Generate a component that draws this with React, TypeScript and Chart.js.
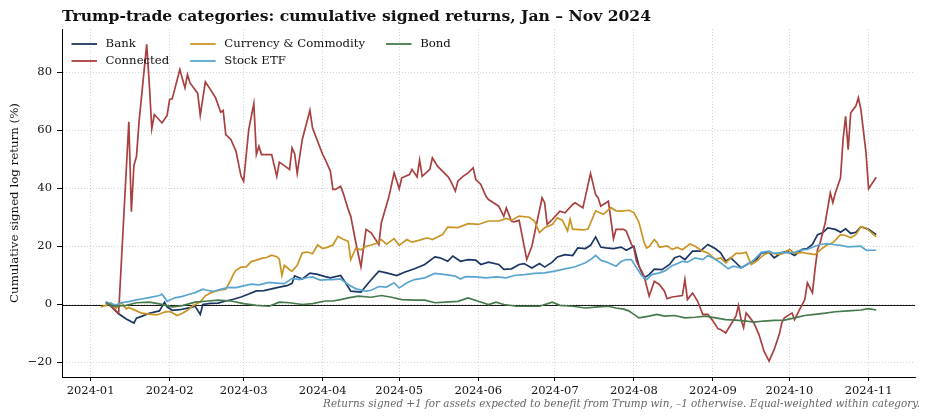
import { useEffect, useRef } from "react"
import { Chart, registerables } from "chart.js"

Chart.register(...registerables)

const FONT = "'DejaVu Serif', serif"

// x values are days since 2024-01-01
const monthStarts = [0, 31, 60, 91, 121, 152, 182, 213, 244, 274, 305]
const monthLabels = ["2024-01", "2024-02", "2024-03", "2024-04", "2024-05", "2024-06", "2024-07", "2024-08", "2024-09", "2024-10", "2024-11"]
const yTicks = [-20, 0, 20, 40, 60, 80]

const seriesNames = ["Bank", "Connected", "Currency & Commodity", "Stock ETF", "Bond"]
const seriesColors = ["#1c3664", "#a8403f", "#c99423", "#5aa5d0", "#467a4c"]

const bankDays = [
  6, 8, 11, 14, 17, 18, 20, 23, 27, 29,
  30, 32, 35, 39, 41, 43, 44, 47, 50, 53,
  56, 59, 62, 65, 68, 71, 74, 77, 79, 80,
  83, 86, 89, 92, 94, 98, 100, 102, 106, 109,
  113, 116, 120, 123, 127, 131, 135, 137, 140, 142,
  145, 148, 151, 153, 156, 160, 162, 165, 168, 170,
  173, 176, 178, 181, 183, 186, 189, 191, 194, 196,
  198, 200, 202, 205, 208, 210, 213, 215, 217, 219,
  221, 224, 227, 229, 231, 233, 236, 239, 242, 245,
  247, 249, 251, 253, 255, 258, 261, 263, 266, 268,
  271, 273, 276, 279, 281, 283, 285, 287, 289, 292,
  294, 296, 298, 300, 302, 305, 308,
]
const bankVals = [
  0.8, -0.6, -3.2, -5.0, -6.4, -4.7, -4.1, -3.0, -2.2, 0.8,
  -0.8, -2.0, -1.8, -1.1, -0.6, -3.4, 0.0, 0.4, 0.5, 1.2,
  1.8, 2.6, 3.6, 4.7, 4.8, 5.4, 6.0, 6.5, 7.3, 9.9,
  8.8, 10.8, 10.4, 9.6, 9.2, 10.0, 7.5, 4.6, 4.3, 7.5,
  11.5, 10.9, 10.0, 11.1, 12.3, 13.8, 16.4, 16.1, 14.9, 16.7,
  14.9, 15.5, 15.3, 13.8, 14.6, 13.8, 12.1, 12.3, 13.8, 14.1,
  12.6, 14.1, 12.9, 14.6, 16.4, 17.2, 16.9, 19.5, 19.3, 20.4,
  23.3, 19.8, 19.5, 19.3, 19.8, 18.7, 20.1, 13.2, 9.2, 10.3,
  12.2, 12.0, 13.8, 16.1, 16.7, 15.5, 18.4, 18.4, 20.7, 19.2,
  17.8, 14.9, 16.1, 14.4, 12.6, 14.1, 15.5, 17.8, 18.0, 16.1,
  17.8, 18.4, 16.9, 19.0, 19.3, 20.7, 24.1, 24.7, 26.4, 25.9,
  24.9, 26.1, 24.5, 24.9, 26.8, 25.9, 24.1,
]

const connectedDays = [
  6, 8, 9, 11, 15, 16, 17, 18, 19, 22,
  23, 24, 25, 28, 30, 31, 32, 35, 37, 38,
  39, 42, 43, 45, 47, 49, 51, 52, 53, 55,
  57, 59, 60, 62, 64, 65, 66, 67, 71, 73,
  74, 75, 78, 79, 80, 81, 83, 86, 87, 91,
  92, 94, 95, 96, 98, 99, 101, 102, 104, 106,
  108, 110, 113, 114, 117, 119, 121, 122, 125, 126,
  128, 129, 130, 133, 134, 136, 140, 141, 143, 144,
  146, 148, 150, 151, 153, 155, 156, 159, 160, 162,
  163, 165, 166, 168, 171, 173, 177, 178, 179, 181,
  184, 186, 189, 190, 193, 196, 198, 199, 200, 203,
  205, 206, 209, 210, 212, 213, 214, 216, 217, 218,
  219, 221, 223, 225, 226, 228, 232, 233, 234, 236,
  238, 240, 242, 244, 246, 247, 249, 251, 253, 254,
  255, 256, 257, 258, 260, 262, 264, 266, 268, 270,
  271, 272, 275, 276, 278, 280, 281, 283, 284, 285,
  286, 288, 290, 291, 292, 294, 295, 296, 297, 298,
  300, 301, 302, 304, 305, 308,
]
const connectedVals = [
  0.8, -0.5, -1.5, -3.0, 63.0, 32.0, 48.0, 51.0, 63.0, 89.7,
  76.4, 60.6, 65.5, 62.6, 65.2, 70.7, 70.9, 81.0, 74.7, 79.3,
  76.4, 72.8, 65.2, 76.8, 74.1, 71.3, 66.3, 66.9, 58.6, 56.9,
  52.9, 44.2, 42.5, 60.3, 69.3, 51.7, 54.6, 51.7, 51.7, 44.2,
  49.1, 48.5, 46.6, 54.0, 52.0, 45.2, 56.9, 67.0, 60.9, 51.7,
  50.0, 46.0, 39.7, 39.7, 40.8, 38.5, 32.8, 30.4, 21.3, 13.0,
  25.9, 24.7, 20.7, 28.2, 37.3, 45.4, 39.9, 43.7, 44.8, 46.6,
  44.0, 49.8, 44.2, 46.6, 50.6, 47.7, 44.2, 42.9, 39.1, 42.5,
  44.2, 45.4, 47.1, 43.1, 41.4, 37.3, 36.2, 34.5, 33.9, 30.4,
  33.3, 28.7, 28.5, 29.0, 15.5, 20.1, 36.8, 35.1, 27.6, 29.3,
  32.2, 31.6, 34.5, 35.1, 33.3, 45.2, 37.9, 36.8, 33.9, 35.6,
  22.7, 25.9, 25.9, 25.3, 20.8, 19.5, 14.9, 11.5, 9.8, 6.3,
  2.9, 8.0, 6.9, 4.6, 2.0, 2.6, 3.1, 8.6, 1.7, 4.0,
  1.1, -3.4, -3.4, -5.7, -8.4, -8.6, -9.8, -6.9, -4.0, -0.3,
  -5.2, -8.0, -2.9, -4.0, -6.3, -10.3, -16.1, -19.5, -15.5, -10.3,
  -6.3, -4.6, -2.9, -5.2, -1.7, 1.7, 7.5, 4.0, 12.1, 19.0,
  21.3, 28.2, 38.5, 35.1, 38.5, 43.7, 56.9, 64.9, 53.4, 66.1,
  68.4, 71.3, 67.2, 52.3, 39.9, 43.9,
]

const currencyDays = [
  4, 6, 8, 10, 12, 14, 15, 18, 20, 23,
  26, 29, 31, 34, 36, 38, 40, 43, 45, 47,
  49, 51, 53, 55, 56, 57, 59, 61, 63, 65,
  67, 69, 71, 73, 74, 75, 76, 78, 79, 81,
  83, 85, 87, 89, 91, 93, 95, 97, 99, 101,
  102, 104, 106, 108, 110, 112, 114, 116, 119, 121,
  124, 126, 129, 132, 134, 138, 140, 144, 148, 152,
  156, 160, 163, 165, 168, 172, 174, 176, 178, 181,
  183, 185, 187, 188, 189, 193, 195, 198, 201, 204,
  206, 208, 211, 213, 215, 217, 218, 219, 221, 222,
  223, 226, 228, 230, 232, 235, 237, 240, 242, 245,
  247, 249, 253, 255, 257, 259, 261, 264, 266, 270,
  272, 274, 276, 279, 281, 284, 287, 289, 291, 294,
  296, 298, 300, 302, 304, 306, 308,
]
const currencyVals = [
  -0.8, -0.3, 0.5, -1.3, 0.7, -1.5, -1.0, -2.2, -3.0, -3.3,
  -3.6, -2.6, -2.4, -3.8, -3.0, -2.0, -0.5, 0.9, 3.0, 4.0,
  4.6, 5.0, 5.3, 8.5, 10.5, 11.8, 12.9, 13.0, 14.8, 15.3,
  15.9, 16.2, 17.0, 16.5, 15.6, 10.0, 13.5, 12.0, 11.5, 13.5,
  17.8, 18.1, 17.5, 20.5, 19.3, 19.8, 20.5, 23.5, 22.5, 21.8,
  15.5, 19.5, 18.9, 20.1, 20.5, 21.0, 22.4, 20.8, 22.7, 20.4,
  22.4, 21.5, 22.2, 23.0, 22.4, 24.1, 26.7, 26.5, 27.9, 27.6,
  28.8, 28.8, 29.7, 29.0, 30.5, 30.1, 28.8, 24.8, 26.5, 27.6,
  29.9, 29.0, 25.4, 29.4, 26.0, 25.7, 26.0, 32.3, 31.1, 33.4,
  32.3, 32.2, 32.5, 31.7, 28.3, 21.4, 19.5, 20.0, 22.4, 21.4,
  19.7, 20.2, 19.0, 19.7, 18.9, 20.9, 20.1, 18.4, 17.8, 15.5,
  16.1, 14.4, 17.6, 17.6, 18.0, 13.8, 14.9, 17.2, 18.0, 17.2,
  17.8, 19.0, 17.6, 18.0, 17.6, 17.2, 19.5, 20.7, 21.3, 24.1,
  23.8, 23.0, 24.1, 26.8, 26.4, 24.9, 23.3,
]

const stockDays = [
  6, 8, 10, 12, 15, 18, 20, 23, 27, 28,
  30, 33, 36, 39, 41, 44, 45, 48, 51, 54,
  57, 60, 63, 66, 70, 73, 76, 79, 82, 85,
  87, 90, 93, 95, 98, 101, 104, 108, 110, 113,
  116, 119, 121, 124, 127, 131, 135, 139, 143, 145,
  147, 151, 155, 159, 163, 166, 170, 174, 178, 182,
  186, 190, 194, 196, 198, 200, 203, 206, 208, 210,
  212, 213, 216, 218, 220, 223, 225, 228, 230, 232,
  234, 237, 240, 242, 245, 247, 250, 252, 255, 258,
  260, 263, 266, 268, 271, 273, 276, 278, 281, 284,
  286, 289, 291, 294, 297, 302, 304, 308,
]
const stockVals = [
  0.8, 0.3, -0.2, 0.6, 1.0, 1.6, 1.9, 2.4, 3.1, 3.6,
  1.1, 2.3, 2.8, 3.6, 4.1, 5.3, 5.0, 4.5, 5.2, 5.9,
  5.8, 6.4, 7.0, 6.8, 7.6, 7.4, 7.2, 9.0, 8.6, 9.3,
  9.5, 8.4, 8.6, 8.6, 8.8, 6.9, 5.4, 4.6, 4.9, 6.2,
  6.0, 7.5, 5.7, 7.5, 8.6, 9.2, 10.7, 10.3, 9.8, 8.8,
  9.6, 9.5, 9.2, 9.5, 9.2, 10.0, 10.3, 10.7, 10.9, 11.5,
  12.3, 13.0, 14.4, 15.5, 16.9, 15.3, 14.4, 13.2, 14.8, 15.5,
  15.5, 14.1, 10.0, 8.6, 10.3, 10.9, 11.5, 13.4, 14.1, 14.9,
  14.6, 16.1, 15.5, 16.9, 15.5, 14.4, 12.3, 13.2, 12.6, 14.1,
  15.3, 18.0, 18.4, 17.6, 18.0, 17.8, 18.0, 18.7, 19.0, 20.1,
  20.7, 21.0, 20.7, 20.4, 19.9, 20.1, 18.7, 18.7,
]

const bondDays = [
  6, 8, 10, 14, 18, 23, 27, 32, 36, 41,
  46, 50, 55, 60, 65, 70, 74, 78, 83, 87,
  92, 95, 98, 101, 105, 110, 114, 118, 122, 127,
  131, 135, 139, 144, 148, 152, 156, 159, 162, 167,
  172, 176, 181, 184, 189, 194, 199, 203, 206, 209,
  211, 213, 215, 219, 222, 225, 229, 233, 237, 241,
  245, 249, 253, 257, 260, 264, 268, 272, 276, 280,
  284, 288, 292, 297, 302, 305, 308,
]
const bondVals = [
  0.6, -0.3, -0.6, -0.3, 0.6, 0.8, 0.2, -0.8, -0.4, 0.8,
  1.2, 1.5, 1.2, 0.3, -0.3, -0.6, 0.8, 0.6, 0.0, 0.3,
  1.2, 1.2, 1.7, 2.3, 2.9, 2.5, 3.1, 2.5, 1.7, 1.5,
  1.5, 0.6, 0.8, 1.1, 2.3, 1.1, 0.0, 0.8, 0.0, -0.6,
  -0.6, -0.6, 0.8, -0.3, -0.6, -1.2, -0.8, -0.6, -1.2, -1.6,
  -2.2, -3.4, -4.6, -4.0, -3.4, -4.0, -3.8, -4.6, -4.4, -4.0,
  -4.6, -5.2, -5.4, -5.7, -6.1, -5.7, -5.5, -5.4, -4.6, -3.8,
  -3.4, -3.0, -2.5, -2.2, -1.9, -1.4, -1.9,
]

const titleText = "Trump-trade categories: cumulative signed returns, Jan \u2013 Nov 2024"
const footnoteText =
  "Returns signed +1 for assets expected to benefit from Trump win, \u20131 otherwise. Equal-weighted within category."

const toPoints = (days: number[], vals: number[]) => days.map((d, i) => ({ x: d, y: vals[i] }))

// title, footnote, legend (3 columns, column-major) and the zero line
const decorPlugin = {
  id: "decor",
  beforeDatasetsDraw(chart: any) {
    const { ctx, chartArea, scales } = chart
    const y0 = Math.round(scales.y.getPixelForValue(0)) + 0.5
    ctx.save()
    ctx.strokeStyle = "#000"
    ctx.lineWidth = 0.9
    ctx.beginPath()
    ctx.moveTo(chartArea.left, y0)
    ctx.lineTo(chartArea.right, y0)
    ctx.stroke()
    ctx.restore()
  },
  afterDraw(chart: any) {
    const { ctx, chartArea } = chart
    ctx.save()
    ctx.fillStyle = "#111"
    ctx.font = `bold 15.6px ${FONT}`
    ctx.textBaseline = "alphabetic"
    ctx.textAlign = "left"
    ctx.fillText(titleText, chartArea.left, 21)

    ctx.font = `italic 10.4px ${FONT}`
    ctx.fillStyle = "#666"
    ctx.textAlign = "right"
    ctx.textBaseline = "middle"
    ctx.fillText(footnoteText, 920, 404)

    // legend
    ctx.font = `11.7px ${FONT}`
    ctx.textAlign = "left"
    ctx.textBaseline = "middle"
    const lineLen = 25.5
    const gap = 8.6
    const colSpacing = 21
    const rowY = [44, 61]
    let colX = 71.5
    for (let c = 0; c < 3; c++) {
      let maxW = 0
      for (let r = 0; r < 2; r++) {
        const i = c * 2 + r
        if (i >= seriesNames.length) continue
        const y = rowY[r]
        ctx.strokeStyle = seriesColors[i]
        ctx.lineWidth = 1.8
        ctx.beginPath()
        ctx.moveTo(colX, y)
        ctx.lineTo(colX + lineLen, y)
        ctx.stroke()
        ctx.fillStyle = "#111"
        ctx.fillText(seriesNames[i], colX + lineLen + gap, y)
        maxW = Math.max(maxW, ctx.measureText(seriesNames[i]).width)
      }
      colX += lineLen + gap + maxW + colSpacing
    }
    ctx.restore()
  },
}

export default function App() {
  const canvasRef = useRef<HTMLCanvasElement | null>(null)
  const chartRef = useRef<Chart | null>(null)

  useEffect(() => {
    document.body.style.margin = "0"
    if (!canvasRef.current) return
    if (chartRef.current) chartRef.current.destroy()

    const allDays = [bankDays, connectedDays, currencyDays, stockDays, bondDays]
    const allVals = [bankVals, connectedVals, currencyVals, stockVals, bondVals]

    const gridColor = "rgba(0,0,0,0.22)"

    chartRef.current = new Chart(canvasRef.current, {
      type: "line",
      data: {
        datasets: seriesNames.map((name, i) => ({
          label: name,
          data: toPoints(allDays[i], allVals[i]),
          borderColor: seriesColors[i],
          backgroundColor: seriesColors[i],
          borderWidth: 1.7,
          pointRadius: 0,
          tension: 0,
          fill: false,
          order: seriesNames.length - i,
        })),
      },
      options: {
        responsive: false,
        animation: false,
        events: [],
        layout: { padding: { top: 29, right: 15, left: 0, bottom: 0 } },
        plugins: {
          legend: { display: false },
          title: { display: false },
          tooltip: { enabled: false },
        },
        scales: {
          x: {
            type: "linear",
            min: -11.2,
            max: 323.2,
            afterBuildTicks: (scale: any) => {
              scale.ticks = monthStarts.map((v) => ({ value: v }))
            },
            afterFit: (scale: any) => {
              scale.height = 43
            },
            ticks: {
              autoSkip: false,
              maxRotation: 0,
              padding: 3,
              color: "#111",
              font: { family: FONT, size: 11.5 },
              callback: (value: any) => monthLabels[monthStarts.indexOf(Number(value))] ?? "",
            },
            grid: {
              color: gridColor,
              lineWidth: 0.8,
              tickColor: "#000",
              tickLength: 4,
              tickBorderDash: [],
              tickWidth: 1,
            },
            border: { display: true, color: "#000", width: 1, dash: [1, 2] },
          },
          y: {
            type: "linear",
            min: -25,
            max: 95,
            afterBuildTicks: (scale: any) => {
              scale.ticks = yTicks.map((v) => ({ value: v }))
            },
            afterFit: (scale: any) => {
              scale.width = 62
            },
            ticks: {
              padding: 5,
              color: "#111",
              font: { family: FONT, size: 11.5 },
              callback: (value: any) => String(value).replace("-", "\u2212"),
            },
            grid: {
              color: gridColor,
              lineWidth: 0.8,
              tickColor: "#000",
              tickLength: 5,
              tickBorderDash: [],
              tickWidth: 1,
            },
            border: { display: true, color: "#000", width: 1, dash: [1, 2] },
            title: {
              display: true,
              text: "Cumulative signed log return (%)",
              color: "#111",
              font: { family: FONT, size: 11.8 },
              padding: { top: 8, bottom: 0 },
            },
          },
        },
      },
      plugins: [decorPlugin],
    })

    return () => {
      if (chartRef.current) {
        chartRef.current.destroy()
        chartRef.current = null
      }
    }
  }, [])

  return <canvas ref={canvasRef} width={930} height={420} style={{ display: "block", width: 930, height: 420 }} />
}
